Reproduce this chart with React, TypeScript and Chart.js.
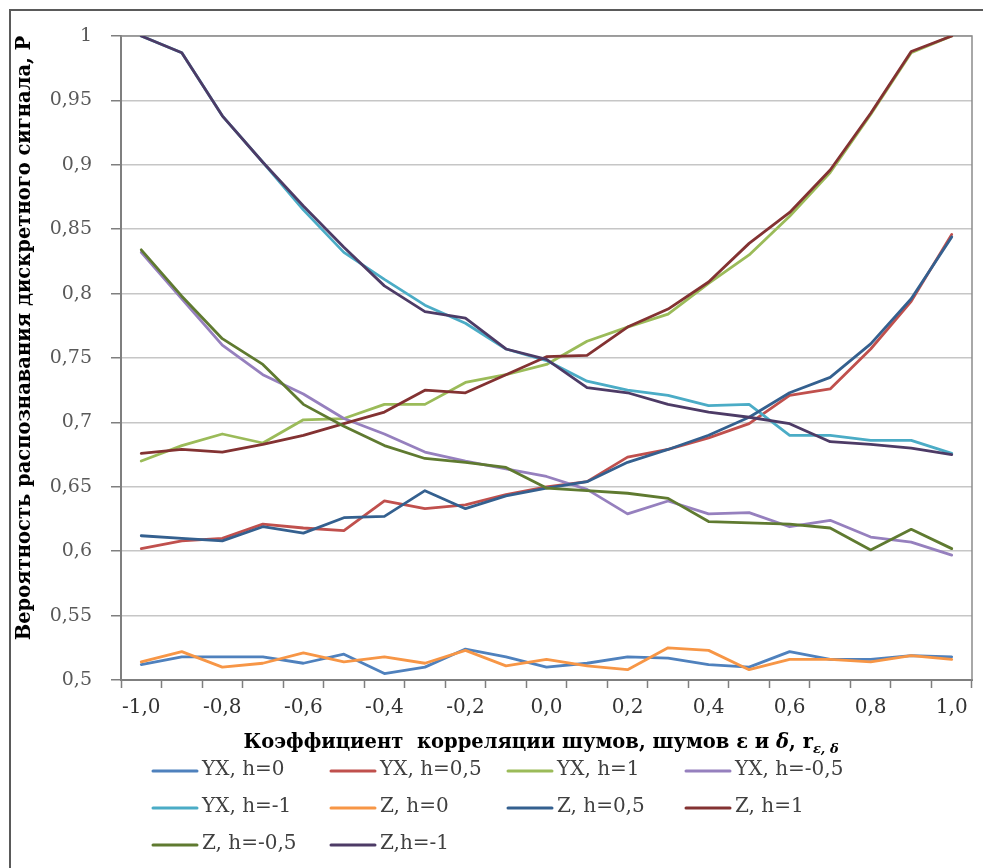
import React, { useEffect, useRef } from "react";
import { Chart, registerables } from "chart.js";

Chart.register(...registerables);

const FONT = "'DejaVu Serif', serif";

const categories = [
  "-1,0", "-0,9", "-0,8", "-0,7", "-0,6", "-0,5", "-0,4", "-0,3", "-0,2", "-0,1",
  "0,0", "0,1", "0,2", "0,3", "0,4", "0,5", "0,6", "0,7", "0,8", "0,9", "1,0",
];

const yTickLabels = ["0,5", "0,55", "0,6", "0,65", "0,7", "0,75", "0,8", "0,85", "0,9", "0,95", "1"];

const seriesNames = [
  "YX, h=0", "YX, h=0,5", "YX, h=1", "YX, h=-0,5",
  "YX, h=-1", "Z, h=0", "Z, h=0,5", "Z, h=1",
  "Z, h=-0,5", "Z,h=-1",
];

const seriesColors = [
  "#4F81BD", "#C0504D", "#9BBB59", "#9680BE",
  "#4BACC6", "#F79646", "#34608F", "#833232",
  "#5F7A30", "#4D3B66",
];

const yxH0 = [0.512, 0.518, 0.518, 0.518, 0.513, 0.520, 0.505, 0.510, 0.524, 0.518, 0.510, 0.513, 0.518, 0.517, 0.512, 0.510, 0.522, 0.516, 0.516, 0.519, 0.518];
const yxH05 = [0.602, 0.608, 0.610, 0.621, 0.618, 0.616, 0.639, 0.633, 0.636, 0.644, 0.650, 0.654, 0.673, 0.679, 0.688, 0.699, 0.721, 0.726, 0.757, 0.794, 0.846];
const yxH1 = [0.670, 0.682, 0.691, 0.684, 0.702, 0.703, 0.714, 0.714, 0.731, 0.737, 0.745, 0.763, 0.774, 0.784, 0.808, 0.830, 0.860, 0.894, 0.939, 0.987, 1.0];
const yxHm05 = [0.832, 0.796, 0.760, 0.737, 0.722, 0.703, 0.691, 0.677, 0.670, 0.664, 0.658, 0.648, 0.629, 0.639, 0.629, 0.630, 0.619, 0.624, 0.611, 0.607, 0.597];
const yxHm1 = [1.0, 0.987, 0.938, 0.902, 0.865, 0.832, 0.811, 0.791, 0.777, 0.757, 0.748, 0.732, 0.725, 0.721, 0.713, 0.714, 0.690, 0.690, 0.686, 0.686, 0.676];
const zH0 = [0.514, 0.522, 0.510, 0.513, 0.521, 0.514, 0.518, 0.513, 0.523, 0.511, 0.516, 0.511, 0.508, 0.525, 0.523, 0.508, 0.516, 0.516, 0.514, 0.519, 0.516];
const zH05 = [0.612, 0.610, 0.608, 0.619, 0.614, 0.626, 0.627, 0.647, 0.633, 0.643, 0.649, 0.654, 0.669, 0.679, 0.690, 0.704, 0.723, 0.735, 0.761, 0.796, 0.844];
const zH1 = [0.676, 0.679, 0.677, 0.683, 0.690, 0.699, 0.708, 0.725, 0.723, 0.737, 0.751, 0.752, 0.774, 0.788, 0.809, 0.839, 0.863, 0.896, 0.940, 0.988, 1.0];
const zHm05 = [0.834, 0.798, 0.765, 0.745, 0.714, 0.697, 0.682, 0.672, 0.669, 0.665, 0.649, 0.647, 0.645, 0.641, 0.623, 0.622, 0.621, 0.618, 0.601, 0.617, 0.602];
const zHm1 = [1.0, 0.987, 0.938, 0.902, 0.868, 0.836, 0.806, 0.786, 0.781, 0.757, 0.749, 0.727, 0.723, 0.714, 0.708, 0.704, 0.699, 0.685, 0.683, 0.680, 0.675];

const seriesValues = [yxH0, yxH05, yxH1, yxHm05, yxHm1, zH0, zH05, zH1, zHm05, zHm1];

const yTitle = "Вероятность распознавания дискретного сигнала, P";

const decorPlugin = {
  id: "decor",
  beforeDatasetsDraw(chart: any) {
    const { ctx, chartArea: a } = chart;
    ctx.save();
    ctx.strokeStyle = "#8c8c8c";
    ctx.lineWidth = 1.5;
    ctx.beginPath();
    ctx.moveTo(a.left, a.top);
    ctx.lineTo(a.right, a.top);
    ctx.lineTo(a.right, a.bottom);
    ctx.stroke();
    ctx.restore();
  },
  afterDraw(chart: any) {
    const { ctx } = chart;
    const W = chart.width;
    const H = chart.height;
    ctx.save();
    // outer frame
    ctx.strokeStyle = "#5a5a5a";
    ctx.lineWidth = 2;
    ctx.beginPath();
    ctx.moveTo(10, H + 2);
    ctx.lineTo(10, 10);
    ctx.lineTo(W + 2, 10);
    ctx.stroke();

    // y title
    ctx.save();
    ctx.translate(25, 338);
    ctx.rotate(-Math.PI / 2);
    ctx.font = `bold 19.5px ${FONT}`;
    ctx.fillStyle = "#000";
    ctx.textAlign = "center";
    ctx.textBaseline = "middle";
    ctx.fillText(yTitle, 0, 0);
    ctx.restore();

    // x title with subscript
    const parts = [
      { t: "Коэффициент  корреляции шумов, шумов ε и ", f: `bold 19.5px ${FONT}`, dy: 0 },
      { t: "δ", f: `italic bold 19.5px ${FONT}`, dy: 0 },
      { t: ", r", f: `bold 19.5px ${FONT}`, dy: 0 },
      { t: "ε, δ", f: `italic bold 13px ${FONT}`, dy: 5 },
    ];
    let total = 0;
    for (const p of parts) {
      ctx.font = p.f;
      total += ctx.measureText(p.t).width;
    }
    let x = 541 - total / 2;
    const yBase = 748;
    ctx.fillStyle = "#000";
    ctx.textAlign = "left";
    ctx.textBaseline = "alphabetic";
    for (const p of parts) {
      ctx.font = p.f;
      ctx.fillText(p.t, x, yBase + p.dy);
      x += ctx.measureText(p.t).width;
    }

    // legend
    const colX = [153, 331, 508, 686];
    const rowY = [770, 807, 844];
    ctx.font = `20px ${FONT}`;
    ctx.textBaseline = "middle";
    chart.data.datasets.forEach((ds: any, i: number) => {
      const cx = colX[i % 4];
      const cy = rowY[Math.floor(i / 4)];
      ctx.strokeStyle = ds.borderColor;
      ctx.lineWidth = 3;
      ctx.lineCap = "round";
      ctx.beginPath();
      ctx.moveTo(cx, cy + 1);
      ctx.lineTo(cx + 44, cy + 1);
      ctx.stroke();
      ctx.fillStyle = "#404040";
      ctx.fillText(ds.label, cx + 49, cy);
    });
    ctx.restore();
  },
};

export default function App() {
  const ref = useRef<HTMLCanvasElement | null>(null);

  useEffect(() => {
    if (!ref.current) return;
    const chart = new Chart(ref.current, {
      type: "line",
      data: {
        labels: categories,
        datasets: seriesValues.map((vals, i) => ({
          label: seriesNames[i],
          data: vals,
          borderColor: seriesColors[i],
          backgroundColor: seriesColors[i],
          borderWidth: 2.8,
          pointRadius: 0,
          tension: 0,
          fill: false,
          borderJoinStyle: "round" as const,
          borderCapStyle: "round" as const,
          order: -i,
        })),
      },
      options: {
        animation: false,
        responsive: false,
        layout: { padding: { left: 12, right: 11, top: 36, bottom: 148 } },
        plugins: {
          legend: { display: false },
          tooltip: { enabled: false },
          title: { display: false },
        },
        scales: {
          x: {
            type: "category",
            offset: true,
            afterFit: (s: any) => {
              s.height = 40;
            },
            grid: {
              display: true,
              drawOnChartArea: false,
              drawTicks: true,
              tickLength: 8,
              tickColor: "#7f7f7f",
              tickWidth: 1.5,
              offset: true,
            },
            border: { display: true, color: "#7f7f7f", width: 2 },
            ticks: {
              autoSkip: false,
              maxRotation: 0,
              minRotation: 0,
              padding: 8,
              color: "#333333",
              font: { family: FONT, size: 20 },
              callback: (_v: any, idx: number) => (idx % 2 === 0 ? categories[idx] : ""),
            },
          },
          y: {
            type: "linear",
            min: 0.5,
            max: 1,
            afterFit: (s: any) => {
              s.width = 109;
            },
            grid: {
              color: "#c6c6c6",
              lineWidth: 1.5,
              drawTicks: true,
              tickLength: 10,
              tickColor: "#7f7f7f",
              tickWidth: 1.5,
            },
            border: { display: true, color: "#7f7f7f", width: 2 },
            ticks: {
              stepSize: 0.05,
              padding: 19,
              color: "#595959",
              font: { family: FONT, size: 19 },
              callback: (_v: any, idx: number) => yTickLabels[idx],
            },
          },
        },
      },
      plugins: [decorPlugin],
    });
    return () => chart.destroy();
  }, []);

  return (
    <div style={{ position: "absolute", left: 0, top: 0, width: 983, height: 868, background: "#fff" }}>
      <canvas ref={ref} width={983} height={868} style={{ display: "block" }} />
    </div>
  );
}
